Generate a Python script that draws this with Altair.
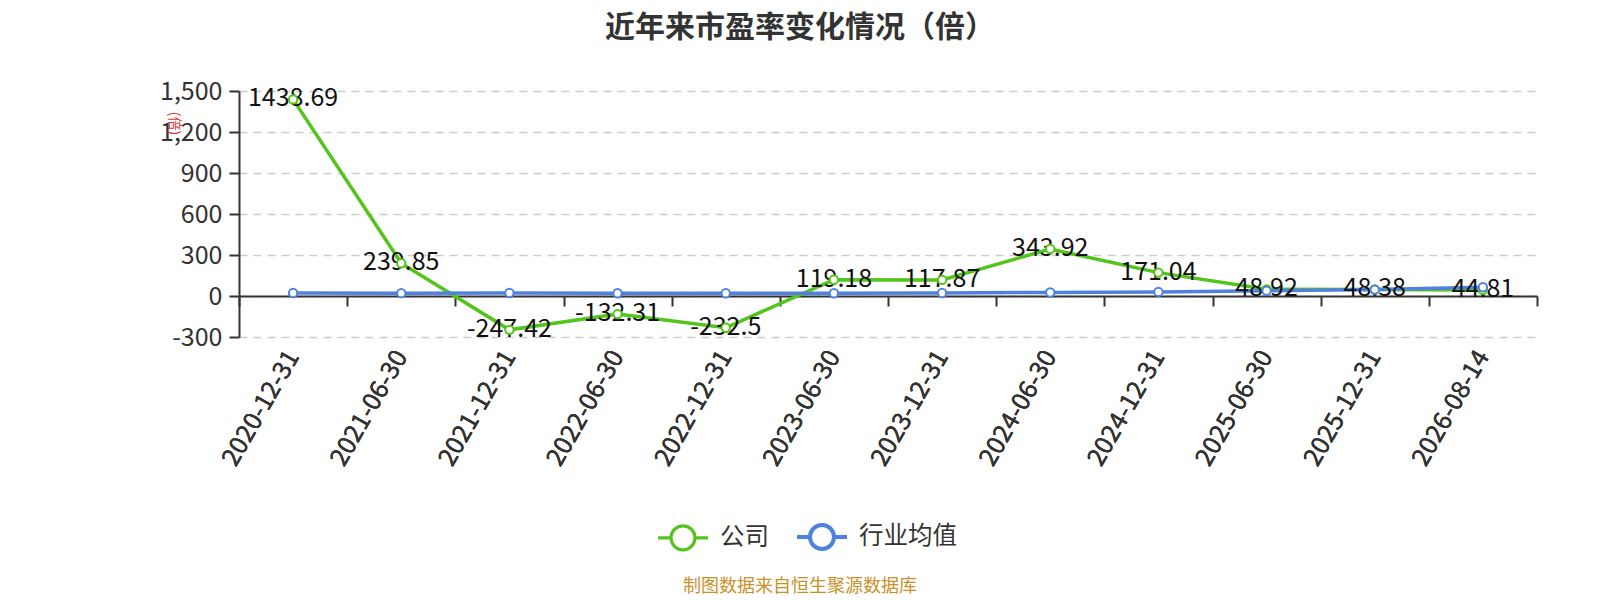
import altair as alt
import pandas as pd

dates = ["2020-12-31", "2021-06-30", "2021-12-31", "2022-06-30", "2022-12-31", "2023-06-30",
         "2023-12-31", "2024-06-30", "2024-12-31", "2025-06-30", "2025-12-31", "2026-08-14"]
company = [1438.69, 239.85, -247.42, -132.31, -232.5, 119.18,
           117.87, 343.92, 171.04, 48.92, 48.38, 44.81]
industry = [22, 21, 22, 20, 20, 20, 22, 26, 30, 38, 47, 64]
series_names = ["公司", "行业均值"]
colors = ["#52c41a", "#4f81e1"]

rows = []
for d, c, i in zip(dates, company, industry):
    rows.append({"date": d, "series": series_names[0], "value": c, "label": str(c)})
    rows.append({"date": d, "series": series_names[1], "value": i, "label": ""})
df = pd.DataFrame(rows)

FONT = "Noto Sans CJK SC"

xscale = alt.Scale(type="band", domain=dates, paddingInner=0, paddingOuter=0)
yscale = alt.Scale(domain=[-300, 1500], nice=False, zero=False)

x_labels = alt.X("date:N", scale=xscale, sort=dates, bandPosition=0.5,
                 axis=alt.Axis(title=None, orient="bottom", domain=False, ticks=False, grid=False,
                               labelAngle=300, labelFontSize=25, labelColor="#333333",
                               labelFont=FONT, labelPadding=15, labelAlign="right",
                               labelBaseline="middle"))
y_enc = alt.Y("value:Q", scale=yscale,
              axis=alt.Axis(title="(倍)", titleColor="#e6322e", titleFontSize=14, titleFont=FONT,
                            titleFontWeight="normal", titleAngle=90, titleX=-66, titleY=32,
                            titleAlign="center", titleBaseline="middle",
                            values=[-300, 0, 300, 600, 900, 1200, 1500],
                            labelExpr="replace(format(datum.value, ','), '\u2212', '-')",
                            labelFontSize=25, labelColor="#333333", labelFont=FONT, labelPadding=7,
                            domain=True, domainColor="#333333", domainWidth=2,
                            ticks=True, tickColor="#333333", tickSize=10, tickWidth=2,
                            grid=True, gridColor="#cccccc", gridDash=[8, 6], gridWidth=1.5))

legend_path = ("M-1,0 L-0.48,0 M0.48,0 L1,0 "
               "M-0.48,0 A0.48,0.48 0 1,1 0.48,0 A0.48,0.48 0 1,1 -0.48,0 Z")
color_enc = alt.Color("series:N", scale=alt.Scale(domain=series_names, range=colors),
                      sort=series_names,
                      legend=alt.Legend(title=None, orient="none", legendX=417, legendY=419,
                                        direction="horizontal", symbolType=legend_path,
                                        symbolSize=2500, symbolStrokeWidth=2.5,
                                        symbolFillColor="white", labelFontSize=24.5,
                                        labelColor="#333333", labelFont=FONT, labelOffset=10,
                                        columnPadding=20, padding=0))

base = alt.Chart(df)

lines = base.mark_line(strokeWidth=3.5).encode(
    x=x_labels, y=y_enc, color=color_enc, order=alt.value(0),
    strokeWidth=alt.StrokeWidth("series:N", scale=alt.Scale(domain=series_names, range=[3.2, 4]),
                                legend=None)
)

texts = base.transform_filter(alt.datum.series == "公司").mark_text(
    fontSize=25, font=FONT, color="#111111", baseline="middle", align="center", dy=-1
).encode(x=x_labels, y=alt.Y("value:Q", scale=yscale), text="label:N")

points = base.mark_point(filled=False, fill="white", size=70, strokeWidth=2, opacity=1).encode(
    x=x_labels, y=alt.Y("value:Q", scale=yscale),
    stroke=alt.Stroke("series:N", scale=alt.Scale(domain=series_names, range=colors), legend=None)
)

zero_axis = base.mark_point(opacity=0).encode(
    x=alt.X("date:N", scale=xscale, sort=dates, bandPosition=0.5,
            axis=alt.Axis(title=None, orient="bottom", offset=-41, labels=False,
                          domain=True, domainColor="#333333", domainWidth=2,
                          ticks=True, tickBand="extent", tickSize=10, tickWidth=2,
                          tickColor="#333333", grid=False)),
    y=alt.Y("value:Q", scale=yscale)
)

footer_df = pd.DataFrame({"t": ["制图数据来自恒生聚源数据库"]})
footer = alt.Chart(footer_df).mark_text(
    fontSize=18, font=FONT, color="#c8912b", align="center", baseline="middle"
).encode(x=alt.value(561), y=alt.value(496), text="t:N")

chart = alt.layer(lines, texts, points, zero_axis, footer).resolve_axis(x="independent").resolve_scale(
    stroke="independent"
).properties(
    width=1298, height=246,
    padding={"left": 231, "top": 83, "right": 40, "bottom": 263},
    autosize=alt.AutoSizeParams(type="none"),
    title=alt.TitleParams("近年来市盈率变化情况（倍）", fontSize=30, fontWeight="bold", font=FONT,
                          color="#333333", anchor="middle", dx=-88, offset=36),
).configure(background="white").configure_view(strokeWidth=0, stroke="transparent")

chart.save("out.html", embed_options={"renderer": "svg", "actions": False})
